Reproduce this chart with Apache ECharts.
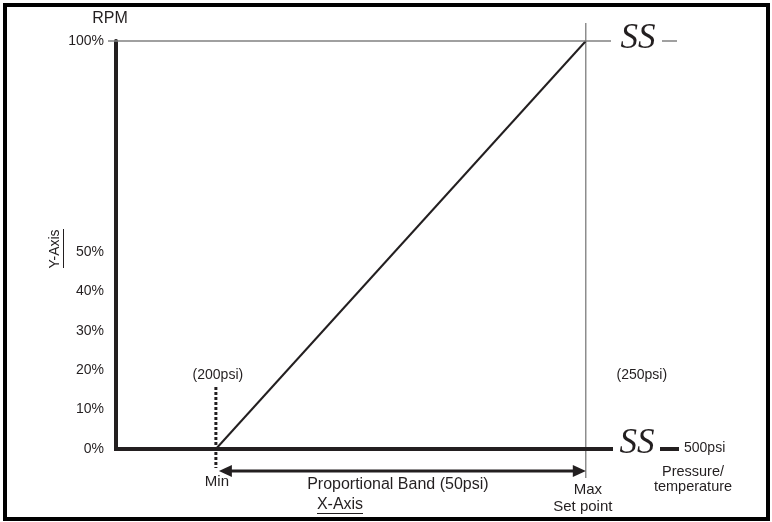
<!DOCTYPE html>
<html><head><meta charset="utf-8">
<script src="https://cdn.jsdelivr.net/npm/echarts@6/dist/echarts.min.js"></script>
<style>html,body{margin:0;padding:0;background:#fff}#c{width:772px;height:522px}</style>
</head><body><div id="c"></div>
<script>
// ---- data ----
const rampPsi = [200, 250];          // Min / Max (set point)
const rampRpmPct = [0, 100];         // speed at Min / Max
const lowerTickPct = [0, 10, 20, 30, 40, 50];
const upperTickPct = [100];
const pointLabels = ['(200psi)', '(250psi)'];
const endLabels = ['Min', 'Max', 'Set point'];
const bandLabel = 'Proportional Band (50psi)';
const farEndLabel = '500psi';
const xTitle = 'X-Axis';
const yTitle = 'Y-Axis';
const yUnit = 'RPM';
const xUnitLines = ['Pressure/', 'temperature'];
const breakMark = 'SS';

// ---- chart ----
const INK = '#231f20', GREY = '#808080';
const SANS = 'Liberation Sans', SERIF = 'Liberation Serif';
const chart = echarts.init(document.getElementById('c'), null, {renderer: 'canvas'});

chart.setOption({
  animation: false,
  backgroundColor: '#fff',
  grid: {left: 116, right: 161, top: 41, bottom: 73, outerBoundsMode: 'none'},
  xAxis: {
    type: 'value', min: 186.5, max: 253.4,
    axisLine: {lineStyle: {color: INK, width: 4, cap: 'square'}},
    axisTick: {show: false}, axisLabel: {show: false}, splitLine: {show: false}
  },
  yAxis: [{
    type: 'value', min: 0, max: 100, position: 'left',
    axisLine: {show: true, lineStyle: {color: INK, width: 4}},
    axisTick: {show: true, customValues: upperTickPct, length: 8, lineStyle: {color: GREY, width: 1.5}},
    axisLabel: {customValues: upperTickPct, formatter: '{value}%', margin: 12,
      fontFamily: SANS, fontSize: 14, color: INK},
    splitLine: {show: false}
  }, {
    type: 'value', min: 0, max: 103.5, position: 'left',
    axisLine: {show: false}, axisTick: {show: false},
    axisLabel: {customValues: lowerTickPct, formatter: '{value}%', margin: 12,
      fontFamily: SANS, fontSize: 14, color: INK},
    splitLine: {show: false}
  }],
  series: [{
    type: 'line', yAxisIndex: 0, symbol: 'none',
    data: rampPsi.map((x, i) => [x, rampRpmPct[i]]),
    lineStyle: {color: INK, width: 2},
    markLine: {
      silent: true, symbol: 'none', label: {show: false},
      lineStyle: {color: GREY, width: 1.5, type: 'solid'},
      data: [{yAxis: upperTickPct[0]}]
    }
  }]
});

const px = v => chart.convertToPixel({xAxisIndex: 0}, v);
const py = v => chart.convertToPixel({yAxisIndex: 0}, v);
const x0 = px(rampPsi[0]), x1 = px(rampPsi[1]);
const yb = py(rampRpmPct[0]), yt = py(rampRpmPct[1]);
const ya = yb + 22;

function txt(s, x, y, size, opts) {
  opts = opts || {};
  return {
    type: 'text', silent: true, rotation: opts.rotation || 0, x: x, y: y,
    style: {
      text: s, x: 0, y: 0, fill: INK,
      fontFamily: opts.family || SANS, fontSize: size, fontStyle: opts.style || 'normal',
      align: opts.align || 'center', textAlign: opts.align || 'center',
      verticalAlign: 'middle', textVerticalAlign: 'middle'
    }
  };
}
function seg(x1_, y1_, x2_, y2_, color, w, dash) {
  return {type: 'line', silent: true,
    shape: {x1: x1_, y1: y1_, x2: x2_, y2: y2_},
    style: {stroke: color, lineWidth: w, lineDash: dash || null}};
}
function tri(pts) {
  return {type: 'polygon', silent: true, shape: {points: pts}, style: {fill: INK}};
}

const gridRight = 772 - 161;
const elements = [
  // outer frame
  {type: 'rect', silent: true, shape: {x: 5, y: 5, width: 763, height: 514},
   style: {fill: null, stroke: '#000', lineWidth: 4}},
  // vertical set-point line
  seg(x1, yt - 18, x1, yb + 29, '#555', 1),
  // dotted Min line
  seg(x0, yb - 62, x0, yb + 19, INK, 3, [3, 2]),
  // proportional band arrow
  seg(x0 + 14, ya, x1 - 11, ya, INK, 3),
  tri([[x0 + 3, ya], [x0 + 16, ya - 6], [x0 + 16, ya + 6]]),
  tri([[x1, ya], [x1 - 13, ya - 6], [x1 - 13, ya + 6]]),
  // break marks
  txt(breakMark, 638, yt - 2, 35, {family: SERIF, style: 'italic'}),
  seg(662, yt, 677, yt, GREY, 1.5),
  txt(breakMark, 637, yb - 5, 35, {family: SERIF, style: 'italic'}),
  seg(660, yb, 679, yb, INK, 4),
  txt(farEndLabel, 684, yb - 1, 14, {align: 'left'}),
  // point labels
  txt(pointLabels[0], x0 + 2, yb - 74, 14),
  txt(pointLabels[1], x1 + 56, yb - 74, 14),
  txt(endLabels[0], x0 + 1, yb + 33, 15),
  txt(endLabels[1], x1 + 2, yb + 41, 15),
  txt(endLabels[2], x1 - 3, yb + 58, 15),
  txt(bandLabel, (x0 + x1) / 2 - 3, yb + 36, 16),
  // axis titles
  txt(xTitle, 340, yb + 56, 16),
  seg(317, yb + 64.5, 363, yb + 64.5, INK, 1),
  txt(xUnitLines[0], 693, yb + 23, 14.5),
  txt(xUnitLines[1], 693, yb + 38, 14.5),
  txt(yUnit, 110, 19, 16),
  txt(yTitle, 55, 249, 14, {rotation: Math.PI / 2}),
  seg(63.5, 229, 63.5, 268, INK, 1)
];
chart.setOption({graphic: {elements: elements}});
</script></body></html>
